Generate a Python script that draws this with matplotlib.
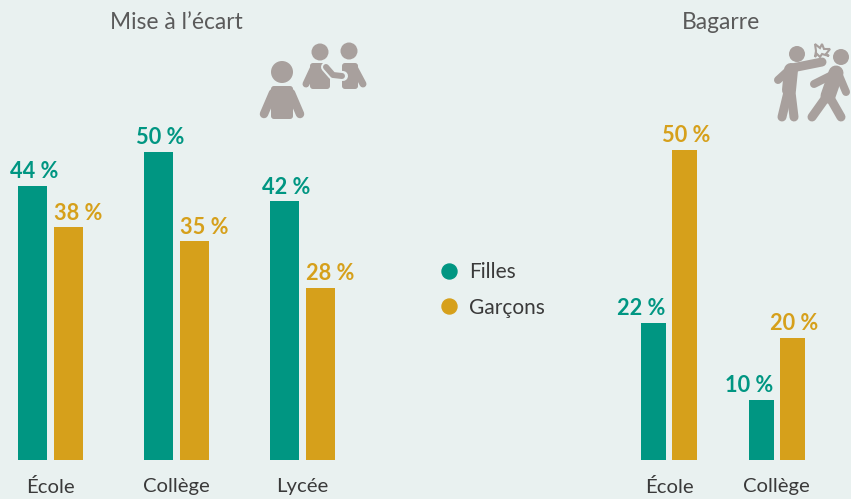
import matplotlib; matplotlib.use("Agg")
import matplotlib.pyplot as plt
from matplotlib.lines import Line2D
from matplotlib.patches import Circle, Polygon, FancyBboxPatch

W, H = 851, 499
BG = "#E9F1F0"; TEAL = "#009682"; GOLD = "#D6A01B"; ICON = "#A8A09D"
plt.rcParams["font.family"] = ["Lato", "DejaVu Sans"]

left_title = "Mise à l’écart"
left_cats = ["École", "Collège", "Lycée"]
left_filles = [44.5, 50, 42]
left_garcons = [37.8, 35.5, 28]
left_filles_txt = ["44 %", "50 %", "42 %"]
left_garcons_txt = ["38 %", "35 %", "28 %"]
right_title = "Bagarre"
right_cats = ["École", "Collège"]
right_filles = [22.1, 9.7]
right_garcons = [50, 19.7]
right_filles_txt = ["22 %", "10 %"]
right_garcons_txt = ["50 %", "20 %"]

fig = plt.figure(figsize=(W / 100, H / 100), dpi=100, facecolor=BG)

def make_axes(x0, x1, y0, y1):
    # pixel box, y measured from the top of the image
    ax = fig.add_axes([x0 / W, 1 - y1 / H, (x1 - x0) / W, (y1 - y0) / H])
    ax.patch.set_alpha(0)
    for s in ax.spines.values():
        s.set_visible(False)
    return ax

def panel(x0, x1, top, centre0, spacing, bw, off, cats, fil, gar, fil_txt, gar_txt, title, title_x, px_per_unit, dx_f, dx_g):
    ax = make_axes(x0, x1, top, 460)
    ax.set_xlim((x0 - centre0) / spacing, (x1 - centre0) / spacing)
    ax.set_ylim(0, (460 - top) / px_per_unit)
    xs = list(range(len(cats)))
    w = bw / spacing; d = off / spacing
    b1 = ax.bar([x - d for x in xs], fil, w, color=TEAL)
    b2 = ax.bar([x + d for x in xs], gar, w, color=GOLD)
    for bars, vals, txt, col, dx in [(b1, fil, fil_txt, TEAL, dx_f), (b2, gar, gar_txt, GOLD, dx_g)]:
        for r, v, t in zip(bars, vals, txt):
            ax.annotate(t, (r.get_x() + r.get_width() / 2, v), xytext=(dx * 0.72, 2.6),
                        textcoords="offset points", ha="center", va="bottom",
                        color=col, fontsize=15.7, fontweight="bold", annotation_clip=False)
    ax.set_xticks(xs, cats)
    ax.tick_params(axis="x", length=0, pad=13, labelsize=14.6, labelcolor="#3A3A3A")
    ax.set_yticks([])
    fig.text(title_x / W, 1 - 22.5 / H, title, ha="center", va="center", fontsize=16.4, color="#5A5A5A")
    return ax

panel(0, 345, 100, 50.5, 126, 28.5, 18, left_cats, left_filles, left_garcons, left_filles_txt, left_garcons_txt, left_title, 176, 6.16, 2, 10)
panel(620, 851, 100, 669, 107.5, 25, 15.5, right_cats, right_filles, right_garcons, right_filles_txt, right_garcons_txt, right_title, 721, 6.2, -12, 2)

handles = [Line2D([], [], ls="", marker="o", ms=10.8, color=TEAL),
           Line2D([], [], ls="", marker="o", ms=10.8, color=GOLD)]
fig.legend(handles, ["Filles", "Garçons"], loc="center left", bbox_to_anchor=(422 / W, 1 - 290 / H),
           frameon=False, fontsize=15, labelcolor="#3A3A3A", labelspacing=0.72, handletextpad=0.15,
           borderpad=0, handlelength=1.6)

# pictograms, drawn in image pixels
ic = make_axes(0, W, 0, H)
ic.set_xlim(0, W); ic.set_ylim(H, 0); ic.set_xticks([]); ic.set_yticks([])
ic.set_zorder(5)

def head(x, y, r):
    ic.add_patch(Circle((x, y), r, color=ICON, lw=0))

def limb(pts, lw, color=ICON, z=2):
    xs, ys = zip(*pts)
    ic.plot(xs, ys, color=color, lw=lw * 0.72, solid_capstyle="round", solid_joinstyle="round", zorder=z)

def torso(x0, y0, x1, y1, r=4):
    ic.add_patch(FancyBboxPatch((x0 + r, y0 + r), x1 - x0 - 2 * r, y1 - y0 - 2 * r,
                                boxstyle="round,pad=%g,rounding_size=%g" % (r, r), fc=ICON, ec="none", zorder=2))

# lone figure
head(282, 72, 11)
torso(271, 86, 293, 119, 3)
limb([(273, 93), (264, 114)], 8.5)
limb([(291, 93), (300, 114)], 8.5)
# pair
head(320, 52, 8.5)
torso(310, 63, 330, 89, 3)
limb([(313, 69), (306, 84)], 7)
head(349, 51, 8.5)
torso(342, 63, 358, 89, 3)
limb([(355, 69), (363, 84)], 7)
limb([(326, 67), (333, 75), (343, 76)], 10, BG, 3)
limb([(326, 67), (333, 75), (342, 76)], 6, ICON, 4)

# fight
head(797, 54, 8)
limb([(792, 68), (822, 62)], 9)
limb([(790, 69), (778, 80)], 8)
limb([(791, 70), (789, 90)], 14)
limb([(788, 92), (782, 117)], 9)
limb([(791, 92), (794, 117)], 9)
head(841, 57, 8)
limb([(836, 73), (814, 84)], 8)
limb([(838, 73), (846, 92)], 8)
limb([(836, 73), (828, 96)], 15)
limb([(827, 96), (812, 117)], 9)
limb([(829, 96), (841, 117)], 9)
ic.add_patch(Polygon([(815, 44), (820, 48), (822, 44), (824, 49), (830, 49), (826, 54), (829, 56),
                      (822, 54), (820, 57), (817, 54), (815, 57), (816, 51)], fc=BG, ec=ICON, lw=1.5))

fig.savefig("out.png", dpi=100, facecolor=BG)
